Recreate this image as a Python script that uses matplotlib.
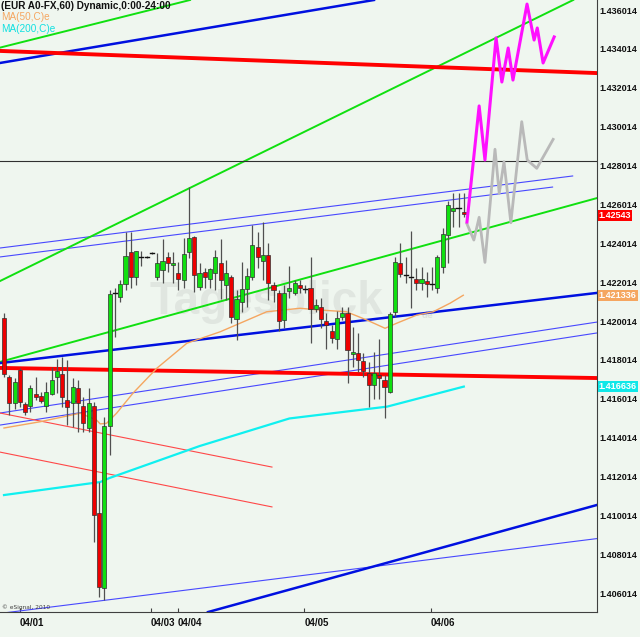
import matplotlib
matplotlib.use('Agg')
import matplotlib.pyplot as plt
from matplotlib.patches import Rectangle
import matplotlib.transforms as mtransforms
import numpy as np

# ---------------- data (hourly EUR/USD candles) ----------------
opens = [1.42017, 1.41713, 1.41580, 1.41749, 1.41574, 1.41564, 1.41626, 1.41616, 1.41564, 1.41626,
         1.41713, 1.41729, 1.41595, 1.41580, 1.41657, 1.41564, 1.41451, 1.41564, 1.41014, 1.40628,
         1.41461, 1.42146, 1.42125, 1.42192, 1.42356, 1.42228, 1.42331, 1.42331, 1.42351, 1.42228,
         1.42264, 1.42331, 1.42290, 1.42248, 1.42212, 1.42356, 1.42434, 1.42176, 1.42254, 1.42218,
         1.42248, 1.42300, 1.42187, 1.42228, 1.42012, 1.42099, 1.42166, 1.42228, 1.42382, 1.42310,
         1.42341, 1.42187, 1.42146, 1.42007, 1.42156, 1.42146, 1.42187, 1.42166, 1.42171, 1.42063,
         1.42074, 1.42002, 1.41950, 1.41909, 1.42022, 1.42043, 1.41832, 1.41837, 1.41796, 1.41734,
         1.41672, 1.41724, 1.41698, 1.41636, 1.42048, 1.42300, 1.42238, 1.42228, 1.42218, 1.42197,
         1.42207, 1.42192, 1.42171, 1.42279, 1.42444, 1.42567, 1.42583, 1.42562]
highs = [1.42043, 1.41724, 1.41708, 1.41760, 1.41585, 1.41672, 1.41713, 1.41636, 1.41688, 1.41765,
         1.41806, 1.41816, 1.41801, 1.41708, 1.41698, 1.41610, 1.41657, 1.41585, 1.41173, 1.41508,
         1.42161, 1.42171, 1.42212, 1.42459, 1.42459, 1.42362, 1.42362, 1.42336, 1.42356, 1.42351,
         1.42423, 1.42356, 1.42356, 1.42305, 1.42428, 1.42691, 1.42439, 1.42300, 1.42274, 1.42274,
         1.42367, 1.42423, 1.42315, 1.42238, 1.42161, 1.42305, 1.42274, 1.42495, 1.42459, 1.42511,
         1.42403, 1.42202, 1.42161, 1.42187, 1.42284, 1.42212, 1.42212, 1.42187, 1.42331, 1.42115,
         1.42120, 1.42043, 1.41981, 1.42053, 1.42074, 1.42074, 1.41971, 1.41940, 1.41837, 1.41791,
         1.41842, 1.41909, 1.41724, 1.42048, 1.42331, 1.42403, 1.42331, 1.42465, 1.42274, 1.42279,
         1.42254, 1.42279, 1.42341, 1.42480, 1.42619, 1.42660, 1.42660, 1.42660]
lows = [1.41713, 1.41518, 1.41549, 1.41559, 1.41518, 1.41533, 1.41595, 1.41580, 1.41533, 1.41621,
        1.41631, 1.41559, 1.41466, 1.41456, 1.41430, 1.41430, 1.41430, 1.40864, 1.40581, 1.40566,
        1.41312, 1.41919, 1.42099, 1.42161, 1.42171, 1.42187, 1.42284, 1.42326, 1.42346, 1.42212,
        1.42197, 1.42254, 1.42197, 1.42161, 1.42171, 1.42326, 1.42151, 1.42161, 1.42171, 1.42171,
        1.42161, 1.42115, 1.42110, 1.41991, 1.41904, 1.42048, 1.42074, 1.42212, 1.42274, 1.42212,
        1.42110, 1.42099, 1.41950, 1.41965, 1.42120, 1.42135, 1.42146, 1.42146, 1.41888, 1.42048,
        1.41965, 1.41857, 1.41888, 1.41857, 1.42007, 1.41682, 1.41765, 1.41739, 1.41713, 1.41559,
        1.41600, 1.41600, 1.41502, 1.41631, 1.42022, 1.42228, 1.42197, 1.42068, 1.42161, 1.42161,
        1.42125, 1.42161, 1.42146, 1.42248, 1.42300, 1.42485, 1.42485, 1.42537]
closes = [1.41729, 1.41580, 1.41688, 1.41585, 1.41533, 1.41657, 1.41610, 1.41590, 1.41636, 1.41698,
          1.41744, 1.41610, 1.41559, 1.41662, 1.41580, 1.41477, 1.41580, 1.41003, 1.40633, 1.41461,
          1.42140, 1.42146, 1.42192, 1.42336, 1.42228, 1.42362, 1.42331, 1.42331, 1.42351, 1.42300,
          1.42310, 1.42300, 1.42300, 1.42218, 1.42346, 1.42428, 1.42238, 1.42248, 1.42228, 1.42269,
          1.42331, 1.42212, 1.42248, 1.42022, 1.42115, 1.42166, 1.42233, 1.42393, 1.42331, 1.42341,
          1.42197, 1.42161, 1.42002, 1.42146, 1.42171, 1.42197, 1.42171, 1.42166, 1.42063, 1.42084,
          1.42012, 1.41981, 1.41914, 1.42017, 1.42043, 1.41852, 1.41842, 1.41801, 1.41744, 1.41672,
          1.41734, 1.41708, 1.41662, 1.42038, 1.42305, 1.42243, 1.42238, 1.42228, 1.42197, 1.42218,
          1.42192, 1.42192, 1.42331, 1.42449, 1.42598, 1.42583, 1.42583, 1.42552]

# moving averages (bar position, price)
ma50_x = [0, 6.8, 14.4, 17.5, 18.2, 19.4, 21.3, 24.4, 28.9, 34.6, 40.9, 49.7, 56, 59.8,
          64.8, 68.6, 72.1, 74.3, 78.1, 81.2, 84.4, 86.9]
ma50_y = [1.41451, 1.41483, 1.41527, 1.41492, 1.41472, 1.41475, 1.41527, 1.41630, 1.41758,
          1.41887, 1.41946, 1.42049, 1.42067, 1.42058, 1.42049, 1.42007, 1.41964, 1.41990,
          1.42032, 1.42049, 1.42093, 1.42134]
ma200_x = [0, 18.2, 20, 37, 54, 72.5, 87]
ma200_y = [1.41106, 1.41173, 1.41194, 1.41358, 1.41500, 1.41561, 1.41664]

# projection paths (bar position, price)
proj1_x = [87.6, 89.9, 91.0, 93.1, 94.2, 95.4, 96.3, 98.96, 100.3, 100.9, 102.0, 104.1]
proj1_y = [1.42511, 1.43108, 1.42830, 1.43458, 1.43231, 1.43406, 1.43241, 1.43632, 1.43447,
           1.43509, 1.43329, 1.43463]
proj2_x = [87.6, 88.9, 89.9, 91.0, 92.9, 93.7, 94.6, 95.9, 97.96, 99.0, 100.8, 103.9]
proj2_y = [1.42501, 1.42418, 1.42535, 1.42303, 1.42885, 1.42658, 1.42821, 1.42507, 1.43027,
           1.42830, 1.42787, 1.42936]

# trend lines: (bar0, price0, bar1, price1)
green_trend = [(-0.76, 1.43408, 35.2, 1.43653),
               (-0.76, 1.42207, 107.7, 1.43653),
               (-0.76, 1.41791, 112.2, 1.42634)]
red_thick_trend = [(-0.76, 1.43391, 112.2, 1.43277),
                   (-0.76, 1.41760, 112.2, 1.41708)]
blue_thick_trend = [(-0.76, 1.43329, 70.0, 1.43653),
                    (-0.76, 1.41785, 112.2, 1.42146),
                    (38.6, 1.40504, 112.2, 1.41055)]
blue_thin_trend = [(-0.76, 1.42377, 107.7, 1.42748),
                   (-0.76, 1.42331, 103.9, 1.42691),
                   (-0.76, 1.41528, 112.2, 1.41996),
                   (-0.76, 1.41466, 112.2, 1.41940),
                   (-0.76, 1.40497, 112.2, 1.40882)]
red_thin_trend = [(-0.76, 1.41528, 50.7, 1.41250),
                  (-0.76, 1.41327, 50.7, 1.41045)]
hline_price = 1.42825

date_ticks = [3.0, 27.8, 32.9, 56.8, 80.8]
date_labels = ['04/01', '04/03', '04/04', '04/05', '04/06']
price_ticks = [1.406014 + 0.002 * k for k in range(16)]

last_price = 1.42543
ma50_last = 1.421336
ma200_last = 1.416636

# ---------------- drawing ----------------
BG = '#eff6ef'
W, H = 640, 637
fig = plt.figure(figsize=(W / 100, H / 100), dpi=100, facecolor=BG)
ax_bottom_px = 612
ax_right_px = 597
ax = fig.add_axes([0, (H - ax_bottom_px) / H, ax_right_px / W, ax_bottom_px / H], facecolor=BG)
ax.set_xlim(-0.757, 112.2)
ax.set_ylim(1.405043, 1.43653)

for x0, y0, x1, y1 in blue_thin_trend:
    ax.plot([x0, x1], [y0, y1], color='#4848ff', lw=0.8, zorder=2, solid_capstyle='butt')
for x0, y0, x1, y1 in red_thin_trend:
    ax.plot([x0, x1], [y0, y1], color='#ff4848', lw=0.8, zorder=2)
for x0, y0, x1, y1 in green_trend:
    ax.plot([x0, x1], [y0, y1], color='#10e010', lw=1.4, zorder=2)
for x0, y0, x1, y1 in blue_thick_trend:
    ax.plot([x0, x1], [y0, y1], color='#0010e0', lw=1.8, zorder=2)
for x0, y0, x1, y1 in red_thick_trend:
    ax.plot([x0, x1], [y0, y1], color='#ff0000', lw=2.8, zorder=2)
ax.axhline(hline_price, color='#303030', lw=0.8, zorder=2)

ax.plot(ma200_x, ma200_y, color='#10f0f0', lw=1.6, zorder=3)
ax.plot(ma50_x, ma50_y, color='#f5a660', lw=1.0, zorder=3)

bw = 0.78
for i, (o, h, l, c) in enumerate(zip(opens, highs, lows, closes)):
    ax.plot([i, i], [l, h], color='#505050', lw=0.9, zorder=4, solid_capstyle='butt')
    if abs(o - c) < 1e-6:
        ax.plot([i - bw / 2, i + bw / 2], [o, o], color='#101010', lw=1.0, zorder=5)
    else:
        col = '#10e010' if c > o else '#ee0000'
        ax.add_patch(Rectangle((i - bw / 2, min(o, c)), bw, abs(c - o), facecolor=col,
                               edgecolor='#303030', lw=0.5, zorder=5))

ax.plot(proj2_x, proj2_y, color='#b9b9b9', lw=2.0, zorder=6)
ax.plot(proj1_x, proj1_y, color='#ff10ff', lw=2.2, zorder=6)

# watermark
ax.text(150 / ax_right_px, 1 - 314 / ax_bottom_px, 'Tagesblick', transform=ax.transAxes,
        fontsize=33, fontweight='bold', color='#e0e6e0', ha='left', va='baseline',
        family='Liberation Sans', zorder=1)
ax.text(422 / ax_right_px, 1 - 318 / ax_bottom_px, 'de', transform=ax.transAxes,
        fontsize=6, fontweight='bold', color='#dde3dd', ha='left', va='baseline', zorder=1)

# axes styling
for s in ['top', 'left']:
    ax.spines[s].set_visible(False)
for s in ['right', 'bottom']:
    ax.spines[s].set_color('#404040')
    ax.spines[s].set_linewidth(0.8)
ax.yaxis.tick_right()
ax.set_yticks(price_ticks)
ax.set_yticklabels(['%.6f' % v for v in price_ticks])
ax.tick_params(axis='y', length=0, pad=2, labelsize=6.5, labelcolor='#101010')
ax.set_xticks(date_ticks)
ax.set_xticklabels(date_labels)
ax.tick_params(axis='x', direction='in', length=3, color='#404040', pad=4,
               labelsize=7, labelcolor='#101010')
for lab in ax.get_xticklabels():
    lab.set_horizontalalignment('left')
    lab.set_fontweight('bold')
    lab.set_family('Liberation Sans')
for lab in ax.get_yticklabels():
    lab.set_fontweight('bold')
    lab.set_family('Liberation Sans')

# last-value boxes on price axis
trans = mtransforms.blended_transform_factory(ax.transAxes, ax.transData)
for val, txt, fc in [(last_price, '1.42543', '#ff0000'),
                     (ma50_last, '1.421336', '#f5a660'),
                     (ma200_last, '1.416636', '#10e8e8')]:
    ax.text(1.003, val, txt, transform=trans, ha='left', va='center', fontsize=6.5,
            fontweight='bold', color='white', family='Liberation Sans', zorder=10,
            bbox=dict(boxstyle='square,pad=0.1', fc=fc, ec='none'), clip_on=False)

# header texts
fig.text(1 / W, 1 - 6 / H, '(EUR A0-FX,60) Dynamic,0:00-24:00', fontsize=7.2, fontweight='bold',
         color='#101010', va='center', ha='left', family='Liberation Sans')
fig.text(1 / W, 1 - 17 / H, 'MA(50,C)e', fontsize=7.2, color='#f5a660', va='center', ha='left',
         family='Liberation Sans')
fig.text(1 / W, 1 - 29 / H, 'MA(200,C)e', fontsize=7.2, color='#10e0e0', va='center', ha='left',
         family='Liberation Sans')
fig.text(2 / W, 1 - 607 / H, '\u00a9 eSignal, 2010', fontsize=4.2, color='#404040',
         va='center', ha='left')

fig.savefig('out.png', dpi=100, facecolor=BG)
